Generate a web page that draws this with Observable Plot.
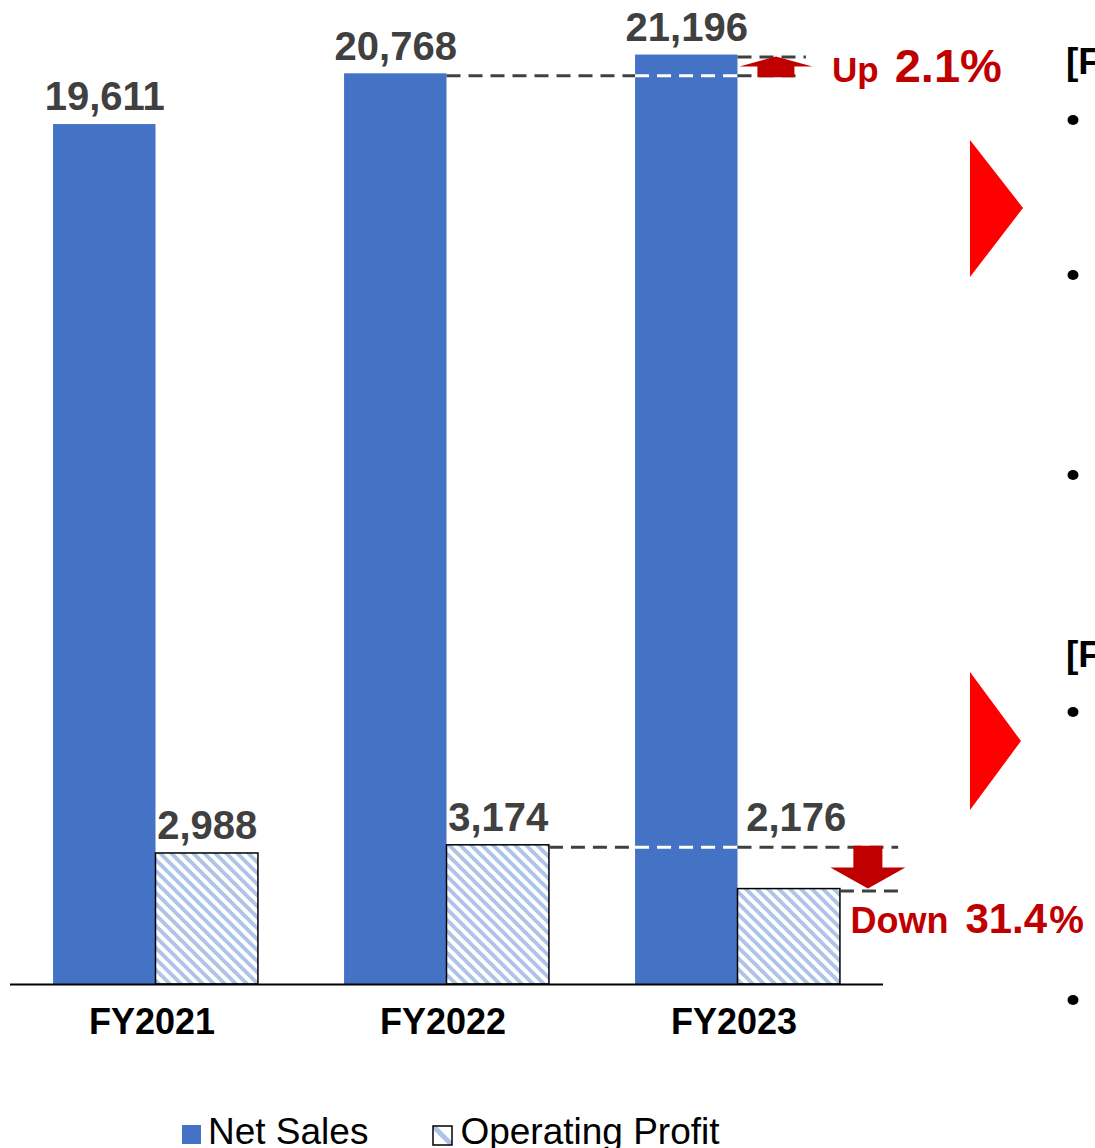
<!DOCTYPE html>
<html>
<head>
<meta charset="utf-8">
<script src="https://cdn.jsdelivr.net/npm/d3@7"></script>
<script src="https://cdn.jsdelivr.net/npm/@observablehq/plot@0.6"></script>
<style>
  html, body { margin: 0; padding: 0; background: #fff; }
  body { font-family: "Liberation Sans", Arial, sans-serif; }
  #wrap { position: relative; width: 1095px; height: 1148px; overflow: hidden; }
  #legend { margin-top: 12px; padding-left: 182px; font-size: 37px; line-height: 40px; color: #000; white-space: nowrap; }
  #legend .item { display: inline-block; margin-right: 64px; }
  #legend .sw { display: inline-block; width: 19px; height: 19px; vertical-align: baseline; margin-right: 7px; }
  #deco { position: absolute; left: 0; top: 0; pointer-events: none; }
</style>
</head>
<body>
<div id="wrap">
  <div id="chart"></div>
  <div id="legend"></div>
  <svg id="deco" width="1095" height="1148"></svg>
</div>
<script>
// ---------- data ----------
const years = ["FY2021", "FY2022", "FY2023"];
const netSales = [19611, 20768, 21196];
const opProfit = [2988, 3174, 2176];
const seriesNames = ["Net Sales", "Operating Profit"];
const changeWords = ["Up", "Down"];
const changePct = ["2.1", "31.4"];

// ---------- style ----------
const BLUE = "#4472C4";
const HATCH = "#adc3e8";
const DARKRED = "#C00000";
const LABEL = "#404040";
const FONT = "Liberation Sans, Arial, sans-serif";
const BW = 0.352; // bar width in category units

const idx = years.map((_, i) => i);
const fmt = d3.format(",");
const sales = idx.map(i => ({i, v: netSales[i]}));
const profit = idx.map(i => ({i, v: opProfit[i]}));

// comparison dashed lines (FY2022 -> FY2023)
const darkDash = [
  {y: netSales[1], x1: 1, x2: 2 - BW},
  {y: netSales[1], x1: 2, x2: 2.22},
  {y: netSales[2], x1: 2, x2: 2.235},
  {y: opProfit[1], x1: 1 + BW, x2: 2 - BW},
  {y: opProfit[1], x1: 2, x2: 2 + BW + 0.2},
  {y: opProfit[2], x1: 2 + BW, x2: 2 + BW + 0.205}
];
const whiteDash = [
  {y: netSales[1], x1: 2 - BW, x2: 2},
  {y: opProfit[1], x1: 2 - BW, x2: 2}
];

function annotations(index, scales) {
  const x = scales.x, y = scales.y;
  const g = d3.create("svg:g");
  const defs = g.append("defs");
  const pat = defs.append("pattern").attr("id", "hatch")
    .attr("patternUnits", "userSpaceOnUse").attr("width", 11).attr("height", 11);
  pat.append("rect").attr("width", 11).attr("height", 11).attr("fill", "white");
  pat.append("path").attr("d", "M-2,-2L13,13M-2,9L2,13M9,-2L13,2")
    .attr("stroke", HATCH).attr("stroke-width", 3.8);

  // up arrow (sales)
  {
    const cx = x(2.132), tip = y(netSales[2]) + 2, base = y(netSales[1]) + 4;
    const hw = 36.5, sw = 18.5, hl = 10;
    g.append("path").attr("fill", DARKRED)
      .attr("d", `M${cx},${tip}L${cx + hw},${tip + hl}L${cx + sw},${tip + hl}L${cx + sw},${base}L${cx - sw},${base}L${cx - sw},${tip + hl}L${cx - hw},${tip + hl}Z`);
    const t = g.append("text").attr("x", x(2.325)).attr("y", y(netSales[1]) + 9)
      .attr("text-anchor", "start")
      .attr("fill", DARKRED).attr("font-weight", "bold").attr("font-family", FONT);
    t.append("tspan").attr("font-size", 35).text(changeWords[0]);
    t.append("tspan").attr("font-size", 47).attr("dx", 16).text(changePct[0] + "%");
  }
  // down arrow (profit)
  {
    const cx = x(2.448), top = y(opProfit[1]) + 1, tip = y(opProfit[2]);
    const hw = 37.5, sw = 14.5, hl = 21;
    g.append("path").attr("fill", DARKRED)
      .attr("d", `M${cx - sw},${top}L${cx + sw},${top}L${cx + sw},${tip - hl}L${cx + hw},${tip - hl}L${cx},${tip}L${cx - hw},${tip - hl}L${cx - sw},${tip - hl}Z`);
    const t = g.append("text").attr("x", x(2.388)).attr("y", y(opProfit[2]) + 44)
      .attr("text-anchor", "start")
      .attr("fill", DARKRED).attr("font-weight", "bold").attr("font-family", FONT);
    t.append("tspan").attr("font-size", 36).text(changeWords[1]);
    t.append("tspan").attr("font-size", 42).attr("dx", 17).text(changePct[1]);
    t.append("tspan").attr("font-size", 39).attr("dx", 2).text("%");
  }
  return g.node();
}

const chart = Plot.plot({
  width: 1095,
  height: 1100,
  marginLeft: 10,
  marginRight: 212,
  marginTop: 0,
  marginBottom: 116,
  x: {type: "linear", domain: [-0.5, 2.5], axis: null},
  y: {domain: [0, 22440], axis: null},
  style: {fontFamily: FONT, background: "white", overflow: "visible"},
  marks: [
    Plot.rect(sales, {x1: d => d.i - BW, x2: d => d.i, y1: 0, y2: "v", fill: BLUE}),
    Plot.rect(profit, {x1: d => d.i, x2: d => d.i + BW, y1: 0, y2: "v", fill: "url(#hatch)", stroke: "black", strokeWidth: 1.5}),
    Plot.ruleY([0], {stroke: "black", strokeWidth: 2}),
    Plot.ruleY(darkDash, {y: "y", x1: "x1", x2: "x2", stroke: "#404040", strokeWidth: 3, strokeDasharray: "14,8", dy: 2}),
    Plot.ruleY(whiteDash, {y: "y", x1: "x1", x2: "x2", stroke: "white", strokeWidth: 3, strokeDasharray: "14,8", dy: 2}),
    annotations,
    Plot.text(sales, {x: d => d.i - BW / 2, y: "v", text: d => fmt(d.v), lineAnchor: "middle", dy: -27,
      fontSize: 40, fontWeight: "bold", fill: LABEL}),
    Plot.text(profit.filter(d => d.i < 2), {x: d => d.i + BW / 2, y: "v", text: d => fmt(d.v),
      lineAnchor: "middle", dy: -27, fontSize: 40, fontWeight: "bold", fill: LABEL}),
    // FY2023 profit label sits above the comparison line
    Plot.text(profit.filter(d => d.i === 2), {x: d => d.i + BW / 2, y: () => opProfit[1], text: d => fmt(d.v),
      lineAnchor: "middle", dy: -27, dx: 7, fontSize: 40, fontWeight: "bold", fill: LABEL}),
    Plot.text(idx, {x: d => d, y: 0, text: d => years[d], lineAnchor: "top", dy: 24, dx: -4,
      fontSize: 36, fontWeight: "bold", fill: "black"})
  ]
});
document.getElementById("chart").appendChild(chart);

// ---------- legend ----------
const legend = d3.select("#legend");
const it1 = legend.append("span").attr("class", "item");
it1.append("span").attr("class", "sw").style("background", BLUE);
it1.append("span").text(seriesNames[0]);
const it2 = legend.append("span").attr("class", "item");
const sw2 = it2.append("svg").attr("class", "sw").attr("width", 21).attr("height", 21).style("width", "21px").style("height", "21px")
  .style("vertical-align", "-2px");
const p2 = sw2.append("defs").append("pattern").attr("id", "hatchLegend").attr("patternUnits", "userSpaceOnUse")
  .attr("width", 21).attr("height", 21);
p2.append("rect").attr("width", 21).attr("height", 21).attr("fill", "white");
p2.append("path").attr("d", "M-2,-2L23,23").attr("stroke", HATCH).attr("stroke-width", 5);
sw2.append("rect").attr("x", 1).attr("y", 1).attr("width", 19).attr("height", 19)
  .attr("fill", "url(#hatchLegend)").attr("stroke", "black").attr("stroke-width", 1.5);
it2.append("span").text(seriesNames[1]);

// ---------- cut-off slide decoration on the right ----------
const deco = d3.select("#deco");
deco.append("polygon").attr("points", "970,140 1023,208 970,277").attr("fill", "#FF0000");
deco.append("polygon").attr("points", "970,672 1021,741 970,810").attr("fill", "#FF0000");
deco.selectAll("text.h").data([74, 667]).join("text").attr("class", "h")
  .attr("x", 1066).attr("y", d => d).attr("font-family", FONT).attr("font-weight", "bold")
  .attr("font-size", 37).attr("fill", "black").text("[F");
deco.selectAll("ellipse").data([120, 275, 475, 712, 1000]).join("ellipse")
  .attr("cx", 1073).attr("cy", d => d).attr("rx", 5.5).attr("ry", 5).attr("fill", "black");
</script>
</body>
</html>
